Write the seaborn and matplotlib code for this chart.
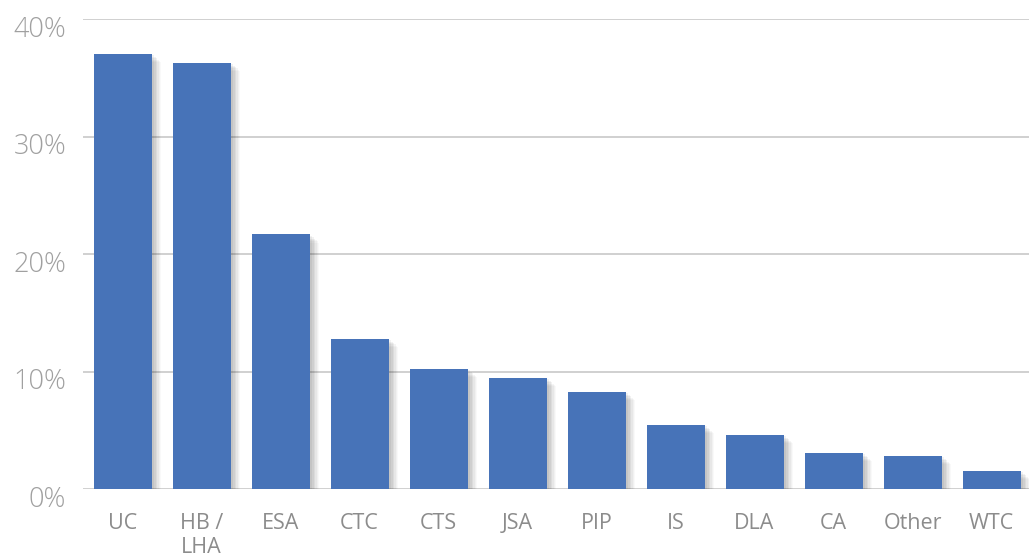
import matplotlib
matplotlib.use("Agg")
import matplotlib.pyplot as plt
import matplotlib.patheffects as pe
import matplotlib.transforms as mtransforms
import seaborn as sns
import pandas as pd

categories = ["UC", "HB /\nLHA", "ESA", "CTC", "CTS", "JSA", "PIP", "IS", "DLA", "CA", "Other", "WTC"]
values = [37.05, 36.3, 21.7, 12.8, 10.24, 9.47, 8.28, 5.47, 4.62, 3.09, 2.83, 1.56]
yticks = [0, 10, 20, 30, 40]
ytick_labels = ["0%", "10%", "20%", "30%", "40%"]

sns.set_theme(style="white")
plt.rcParams["font.family"] = ["Open Sans", "DejaVu Sans"]

df = pd.DataFrame({"category": categories, "value": values})

fig = plt.figure(figsize=(10.29, 5.58), dpi=100)
ax = fig.add_axes([0.0807, 0.1231, 0.9213, 0.8423])

ax.yaxis.grid(True, color="#c4c4c4", linewidth=1.1)
ax.set_axisbelow(True)

sns.barplot(data=df, x="category", y="value", color="#4773b8", saturation=1,
            width=0.735, ax=ax, zorder=3)

shadow = []
for off, a in [((7, -6), 0.025), ((6, -5), 0.03), ((5, -4), 0.04), ((4, -3), 0.05), ((3, -2), 0.05), ((2, -1), 0.05)]:
    shadow.append(pe.SimplePatchShadow(offset=off, shadow_rgbFace="black", alpha=a))
shadow.append(pe.Normal())
for p in ax.patches:
    p.set_path_effects(shadow)
    p.set_edgecolor("none")

ax.set_ylim(0, 40)
ax.set_xlim(-0.5, len(categories) - 0.5)
ax.set_yticks(yticks)
ax.set_yticklabels(ytick_labels, fontsize=19.5, color="#a0a0a0", family=["Open Sans", "DejaVu Sans"], fontweight=300)
ax.tick_params(axis="y", length=0, pad=12)
ax.tick_params(axis="x", length=0, pad=17, labelsize=15.5, labelcolor="#8c8c8c")
shift = mtransforms.ScaledTranslation(0, -7 / 100, fig.dpi_scale_trans)
for lbl in ax.get_yticklabels():
    lbl.set_transform(lbl.get_transform() + shift)
ax.set_xlabel("")
ax.set_ylabel("")
for s in ax.spines.values():
    s.set_visible(False)

fig.savefig("out.png", dpi=100)
